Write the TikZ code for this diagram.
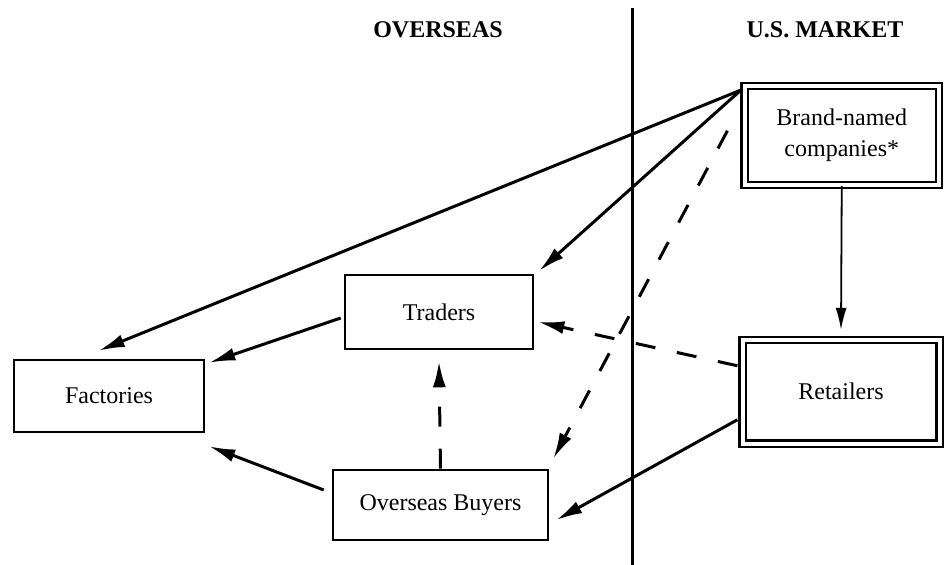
\documentclass[tikz,border=0pt]{standalone}
\usepackage{fontspec}
\setmainfont{Liberation Serif}
\usetikzlibrary{arrows.meta,calc}
\begin{document}
\begin{tikzpicture}[x=1pt,y=-1pt,
  box/.style={draw,line width=2.6pt,inner sep=0pt,font=\fontsize{24}{31}\selectfont,align=center},
  dbox/.style={box,double,double distance=4pt,line width=2.2pt},
  head/.style={font=\fontsize{24}{28}\selectfont\bfseries},
  arr/.style={line width=3pt,-{Latex[length=26pt,width=13pt]}},
  darr/.style={arr,dash pattern=on 20pt off 22pt},
  thinarr/.style={line width=1.8pt,-{Latex[length=22pt,width=11pt]}}]
\useasboundingbox (0,0) rectangle (946,565);
% divider
\coordinate (dtop) at (632,8);
\coordinate (dbot) at (632,565);
\draw[line width=3pt] (dtop) -- (dbot);
% headers
\node[head] (hover) at (438,30) {OVERSEAS};
\node[head] (hus) at (825,30) {U.S. MARKET};
% boxes
\node[dbox,minimum width=194.5pt,minimum height=99pt] (brand) at (841.75,135.5) {Brand-named\\companies*};
\node[dbox,minimum width=197pt,minimum height=103.5pt] (ret) at (841,391.75) {Retailers};
\node[box,minimum width=188pt,minimum height=74pt] (trad) at (439,312) {Traders};
\node[box,minimum width=190pt,minimum height=72pt] (fact) at (109,396) {Factories};
\node[box,minimum width=215pt,minimum height=70pt] (ob) at (440.5,505) {Overseas Buyers};
% connectors
\coordinate (bsrc) at (741,90);
\draw[arr] (bsrc) -- ($(fact.north west)+(86,-8)$);
\draw[arr] (bsrc) -- ($(trad.north east)+(5,-3)$);
\draw[darr,shorten <=32pt] ($(brand.west)+(-1,-33)$) -- ($(ob.north east)+(4,-10)$);
\draw[thinarr] (brand.south) -- ($(ret.north)+(0,-9)$);
\draw[arr] ($(trad.west)+(-3,6)$) -- ($(fact.north east)+(4,4)$);
\draw[arr] ($(ob.west)+(-8,-15)$) -- ($(fact.south east)+(4,13)$);
\draw[darr] (ob.north) -- ($(trad.south)+(0,11)$);
\draw[darr] ($(ret.west)+(-4,-26)$) -- ($(trad.east)+(4,10)$);
\draw[arr] ($(ret.west)+(-4,28)$) -- ($(ob.east)+(7,15)$);
\end{tikzpicture}
\end{document}
